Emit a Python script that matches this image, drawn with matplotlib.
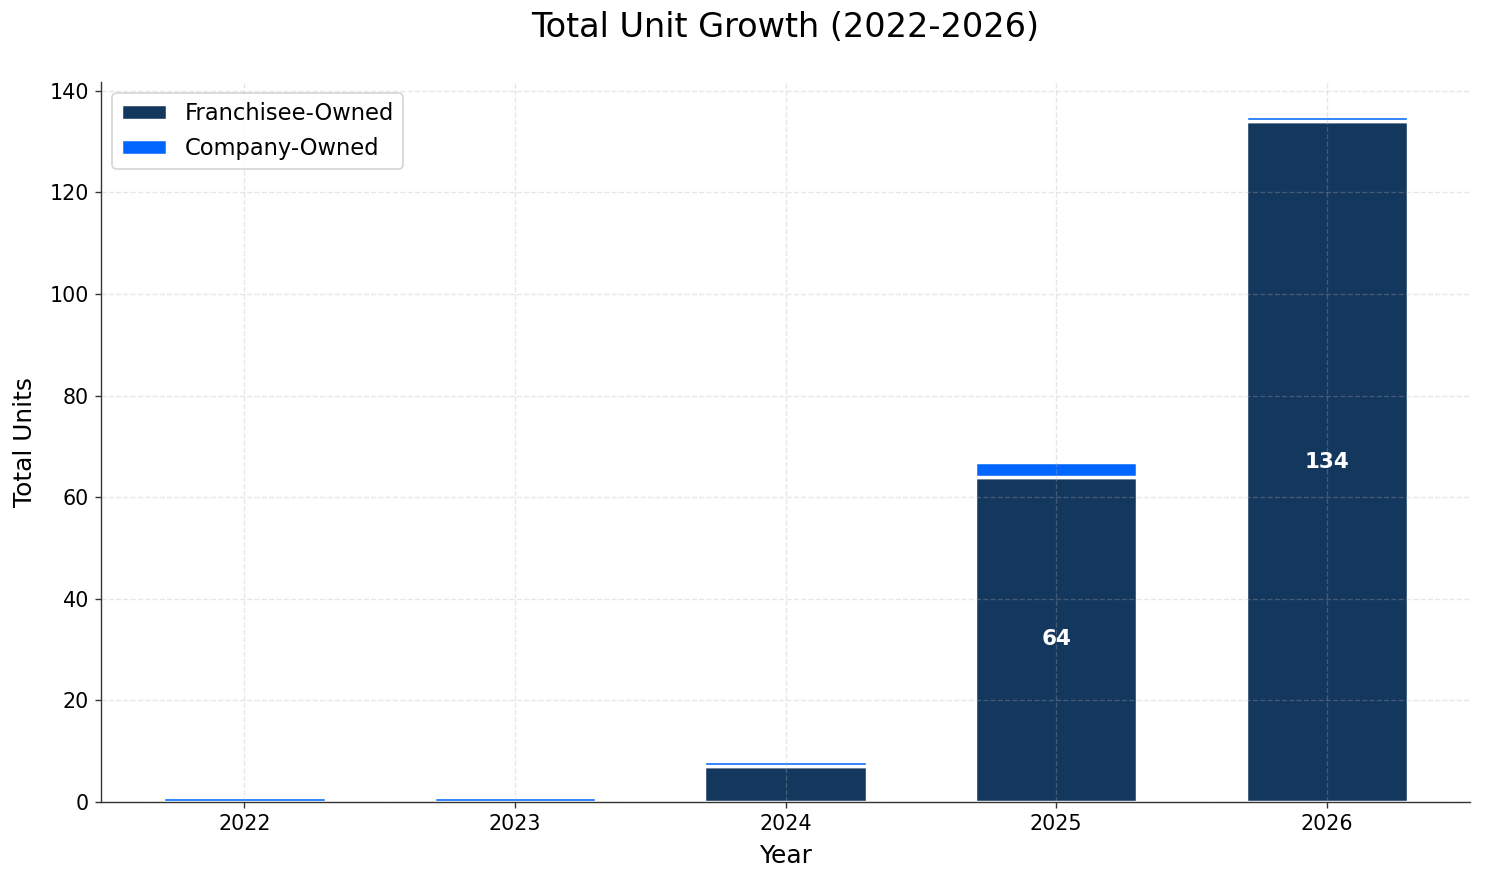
import numpy as np
import matplotlib.pyplot as plt

# unit counts per year
years = ['2022', '2023', '2024', '2025', '2026']
franchisee = [0, 0, 7, 64, 134]
company = [1, 1, 1, 3, 1]

c_fran = '#14375e'
c_comp = '#0066ff'

dpi = 123.75
fig = plt.figure(figsize=(1485 / dpi, 884 / dpi), dpi=dpi)
ax = fig.add_axes([0.068, 0.0928, 0.922, 0.8145])

x = np.arange(len(years))
w = 0.6
ax.bar(x, franchisee, w, color=c_fran, edgecolor='white', linewidth=2, label='Franchisee-Owned')
ax.bar(x, company, w, bottom=franchisee, color=c_comp, edgecolor='white', linewidth=2, label='Company-Owned')

# labels inside the bigger bars
for i, v in enumerate(franchisee):
    if v > 10:
        ax.text(x[i], v / 2, str(v), ha='center', va='center', color='white',
                fontsize=12.5, fontweight='bold')

ax.set_xticks(x)
ax.set_xticklabels(years)
ax.tick_params(labelsize=12, color='#333333')
ax.grid(True, linestyle='--', alpha=0.3)
ax.spines['top'].set_visible(False)
ax.spines['right'].set_visible(False)
ax.spines['left'].set_color('#333333')
ax.spines['bottom'].set_color('#333333')

ax.set_xlabel('Year', fontsize=14.5, labelpad=6)
ax.set_ylabel('Total Units', fontsize=14.5, labelpad=7)
ax.set_title('Total Unit Growth (2022-2026)', fontsize=19.5, pad=26)
ax.legend(loc='upper left', fontsize=13.2)

plt.savefig('out.png', dpi=dpi)
